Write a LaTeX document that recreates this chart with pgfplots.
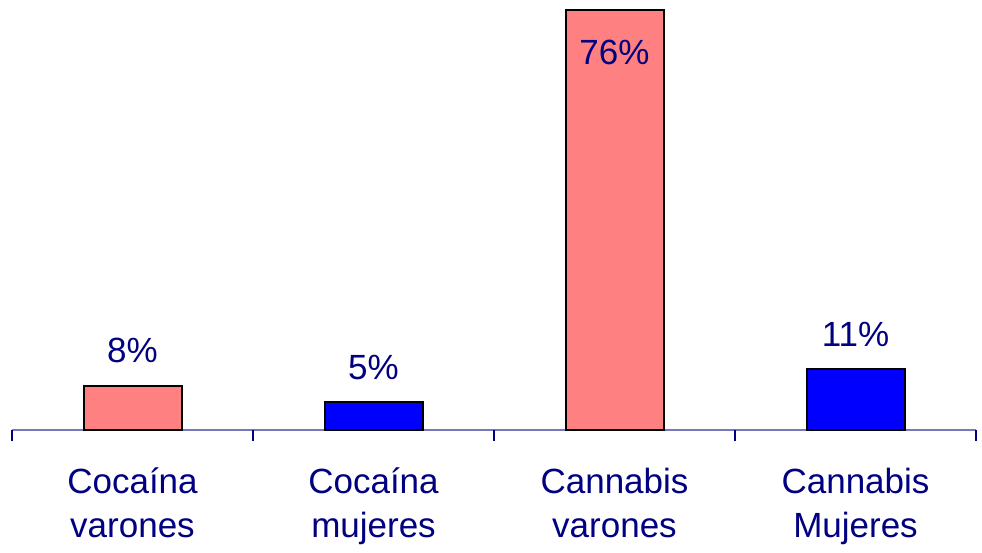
\documentclass[border=0pt]{standalone}
\usepackage{pgfplots}
\pgfplotsset{compat=1.18}
\usepackage{fontspec}
\setmainfont{Liberation Sans}
\definecolor{navytext}{RGB}{0,0,128}
\definecolor{pinkbar}{RGB}{255,128,128}
\definecolor{bluebar}{RGB}{0,0,255}
\definecolor{axisline}{RGB}{120,120,190}
\begin{document}
\begin{tikzpicture}
\begin{axis}[
  scale only axis, width=964pt, height=430pt,
  xmin=-0.5, xmax=3.5, ymin=0, ymax=77.8,
  clip=false,
  axis x line=bottom, axis y line=none,
  axis line style={-, draw=axisline, line width=1.2pt},
  ybar, bar width=98pt,
  /pgf/number format/assume math mode=true,
  xtick={0,1,2,3},
  xticklabels={{Cocaína\\varones},{Cocaína\\mujeres},{Cannabis\\varones},{Cannabis\\Mujeres}},
  major tick length=0pt,
  tick align=outside,
  xticklabel style={align=center, font=\fontsize{35}{44}\selectfont, text=navytext, anchor=north, inner sep=0pt, yshift=-38pt},
  extra x ticks={-0.5,0.5,1.5,2.5,3.5},
  extra x tick labels={},
  extra x tick style={major tick length=11pt, tick align=outside, major tick style={draw=navytext, line width=1.2pt}},
  nodes near coords={\pgfmathprintnumber{\pgfplotspointmeta}\%},
  every node near coord/.append style={font=\fontsize{35}{42}\selectfont, text=navytext, anchor=base, inner sep=0pt, yshift=23pt},
]
\addplot[fill=pinkbar, draw=black, line width=2pt, bar shift=0pt] coordinates {(0,8)};
\addplot[fill=bluebar, draw=black, line width=2pt, bar shift=0pt] coordinates {(1,5) (3,11)};
\addplot[fill=pinkbar, draw=black, line width=2pt, bar shift=0pt,
  every node near coord/.append style={yshift=-78pt}] coordinates {(2,76)};
\end{axis}
\pgfresetboundingbox
\path ([xshift=-12pt,yshift=-122pt]current axis.south west) rectangle ([xshift=6pt]current axis.north east);
\end{tikzpicture}
\end{document}
